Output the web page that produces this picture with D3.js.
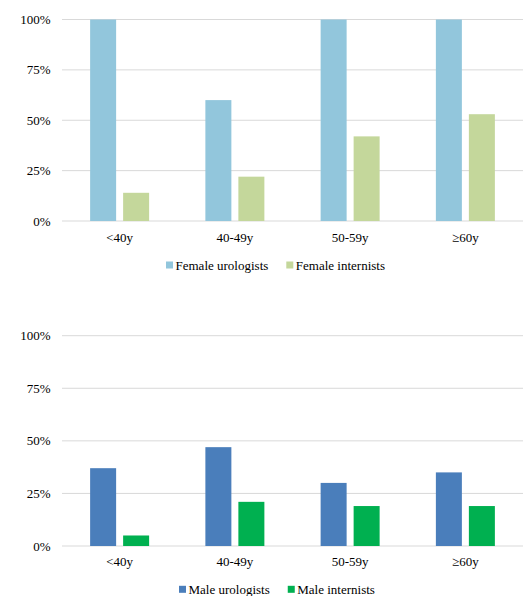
<!DOCTYPE html>
<html>
<head>
<meta charset="utf-8">
<script src="https://cdn.jsdelivr.net/npm/d3@7"></script>
</head>
<body style="margin:0; background:#fff">
<svg id="chart" width="525" height="596"></svg>
<script>
const ageGroups = ['<40y', '40-49y', '50-59y', '≥60y'];
const yTicks = [0, 25, 50, 75, 100];

const femaleUrologists = [100, 60, 100, 100];
const femaleInternists = [14, 22, 42, 53];
const maleUrologists = [37, 47, 30, 35];
const maleInternists = [5, 21, 19, 19];

const FONT = '"Liberation Serif", "Times New Roman", serif';

const panels = [
  { top: 19.5, bottom: 221, labelY: 237, legendY: 265, legendX: 166,
    series: [
      { name: 'Female urologists', values: femaleUrologists, color: '#92c6dc' },
      { name: 'Female internists', values: femaleInternists, color: '#c4d79b' }
    ] },
  { top: 335.7, bottom: 546, labelY: 561.5, legendY: 589.3, legendX: 179,
    series: [
      { name: 'Male urologists', values: maleUrologists, color: '#4a7ebb' },
      { name: 'Male internists', values: maleInternists, color: '#00b050' }
    ] }
];

const svg = d3.select('#chart');
const left = 62, right = 523;

const x = d3.scaleBand().domain(ageGroups).range([left, right]);
const barW = 26, gap = 7;

panels.forEach(p => {
  const y = d3.scaleLinear().domain([0, 100]).range([p.bottom, p.top]);
  const g = svg.append('g');

  g.selectAll('line.grid')
    .data(yTicks)
    .join('line')
    .attr('x1', left).attr('x2', right)
    .attr('y1', d => y(d)).attr('y2', d => y(d))
    .attr('stroke', '#d9d9d9')
    .attr('stroke-width', 1);

  g.selectAll('text.ytick')
    .data(yTicks)
    .join('text')
    .attr('x', 50.5)
    .attr('y', d => y(d))
    .attr('dy', '0.35em')
    .attr('text-anchor', 'end')
    .style('font-family', FONT)
    .style('font-size', '13px')
    .attr('fill', '#000')
    .text(d => d + '%');

  p.series.forEach((s, i) => {
    g.selectAll('rect.s' + i)
      .data(s.values)
      .join('rect')
      .attr('x', (d, j) => x(ageGroups[j]) + x.bandwidth() / 2 - barW - gap / 2 + i * (barW + gap))
      .attr('y', d => y(d))
      .attr('width', barW)
      .attr('height', d => y(0) - y(d))
      .attr('fill', s.color);
  });

  g.selectAll('text.xlab')
    .data(ageGroups)
    .join('text')
    .attr('x', d => x(d) + x.bandwidth() / 2)
    .attr('y', p.labelY)
    .attr('dy', '0.35em')
    .attr('text-anchor', 'middle')
    .style('font-family', FONT)
    .style('font-size', '13px')
    .text(d => d);

  // legend
  let lx = p.legendX;
  p.series.forEach(s => {
    g.append('rect')
      .attr('x', lx).attr('y', p.legendY - 3.5)
      .attr('width', 7).attr('height', 7)
      .attr('fill', s.color);
    const t = g.append('text')
      .attr('x', lx + 9.5)
      .attr('y', p.legendY)
      .attr('dy', '0.35em')
      .style('font-family', FONT)
      .style('font-size', '13px')
      .text(s.name);
    lx += 9.5 + t.node().getComputedTextLength() + 18;
  });
});
</script>
</body>
</html>
